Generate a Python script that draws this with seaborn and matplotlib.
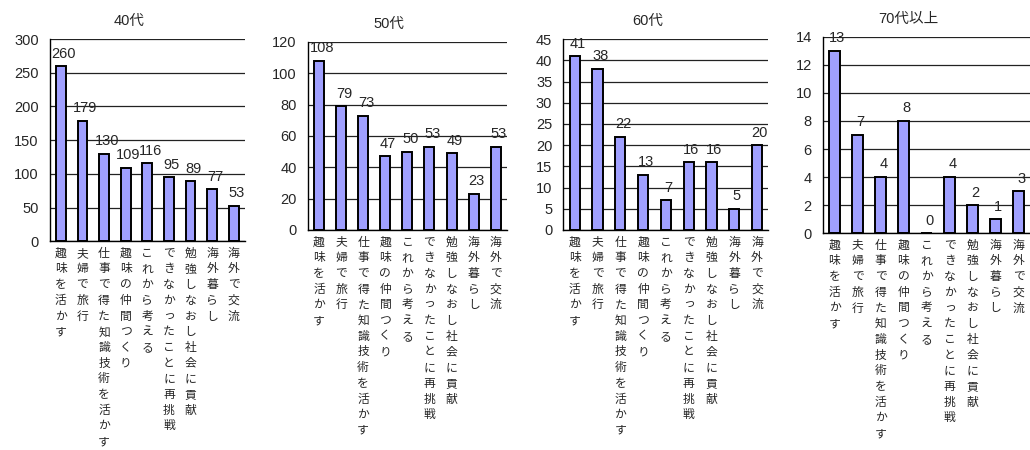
import matplotlib
matplotlib.use("Agg")
import matplotlib.pyplot as plt
import seaborn as sns
import pandas as pd

# categories (shared by every panel)
categories = ['趣味を活かす', '夫婦で旅行', '仕事で得た知識技術を活かす', '趣味の仲間つくり',
              'これから考える', 'できなかったことに再挑戦', '勉強しなおし社会に貢献',
              '海外暮らし', '海外で交流']

# values per age group
vals_40 = [260, 179, 130, 109, 116, 95, 89, 77, 53]
vals_50 = [108, 79, 73, 47, 50, 53, 49, 23, 53]
vals_60 = [41, 38, 22, 13, 7, 16, 16, 5, 20]
vals_70 = [13, 7, 4, 8, 0, 4, 2, 1, 3]

titles = ['40代', '50代', '60代', '70代以上']
ymax = [300, 120, 45, 14]
ystep = [50, 20, 5, 2]

sns.set_style("white")
plt.rcParams['font.family'] = ['Liberation Sans', 'Noto Sans CJK JP', 'DejaVu Sans']

fig = plt.figure(figsize=(10.3, 4.5), dpi=100)

# axes rectangles in figure fraction
rects = [[0.0485, 0.464, 0.189, 0.449],
         [0.299, 0.489, 0.193, 0.418],
         [0.547, 0.489, 0.199, 0.424],
         [0.799, 0.482, 0.201, 0.436]]

for rect, title, vals, top, step in zip(rects, titles, [vals_40, vals_50, vals_60, vals_70], ymax, ystep):
    ax = fig.add_axes(rect)
    df = pd.DataFrame({'cat': categories, 'val': vals})
    sns.barplot(data=df, x='cat', y='val', order=categories, color='#A0A0FF',
                edgecolor='black', linewidth=1.4, width=0.45, saturation=1, ax=ax)
    ax.set_ylim(0, top)
    ax.set_xlim(-0.5, len(categories) - 0.5)
    ax.set_yticks(range(0, top + 1, step))
    ax.yaxis.grid(True, color='#222222', linewidth=0.9)
    ax.set_axisbelow(True)
    ax.set_xlabel('')
    ax.set_ylabel('')
    ax.set_xticks(range(len(categories)))
    ax.set_xticklabels(['\n'.join(c) for c in categories], fontsize=8.5,
                       linespacing=1.27, va='top', family=['Noto Sans CJK JP'])
    ax.set_xticks([i + 0.5 for i in range(len(categories) - 1)], minor=True)
    ax.tick_params(axis='x', which='major', length=0, pad=4)
    ax.tick_params(axis='x', which='minor', length=3, width=0.8, direction='out', color='black')
    ax.tick_params(axis='y', length=0, labelsize=10.5, pad=8)
    for s in ['top', 'right']:
        ax.spines[s].set_visible(False)
    ax.spines['left'].set_color('black')
    ax.spines['bottom'].set_color('black')
    ax.spines['left'].set_linewidth(1.0)
    ax.spines['bottom'].set_linewidth(1.0)
    for i, v in enumerate(vals):
        ax.annotate(str(v), (i, v), xytext=(2, 4), textcoords='offset points',
                    ha='center', va='bottom', fontsize=10.5)
    w = rect[2] * 1030
    ax.set_title(title, fontsize=10.5, x=0.5 - 18 / w, pad=10)

fig.savefig('out.png', dpi=100)
